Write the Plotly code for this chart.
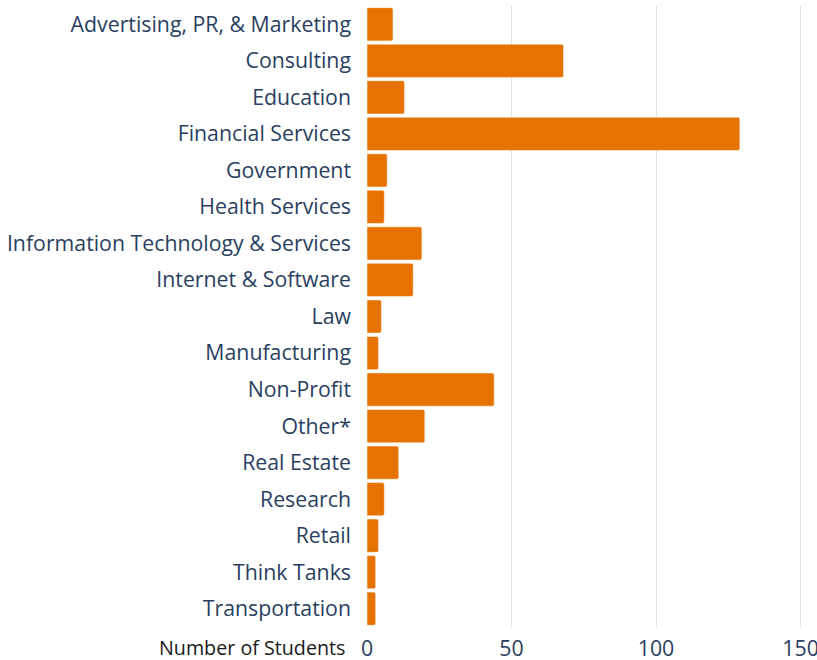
import plotly.graph_objects as go

categories = [
    "Advertising, PR, & Marketing", "Consulting", "Education", "Financial Services",
    "Government", "Health Services", "Information Technology & Services",
    "Internet & Software", "Law", "Manufacturing", "Non-Profit", "Other*",
    "Real Estate", "Research", "Retail", "Think Tanks", "Transportation",
]
students = [9, 68, 13, 129, 7, 6, 19, 16, 5, 4, 44, 20, 11, 6, 4, 3, 3]
x_ticks = [0, 50, 100, 150]
x_title = "Number of Students"

fig = go.Figure(go.Bar(
    x=students, y=categories, orientation="h",
    marker=dict(color="#E67300", line=dict(color="rgba(255,255,255,0.5)", width=1)),
    hoverinfo="x+y",
))

fig.update_layout(
    width=817, height=660,
    margin=dict(l=367, r=2, t=6, b=33, autoexpand=False),
    paper_bgcolor="white", plot_bgcolor="white",
    font=dict(family="Open Sans", size=21.3, color="#2a3f5f"),
    bargap=0.09,
    barcornerradius=2,
    showlegend=False,
    xaxis=dict(range=[0, 155], tickvals=x_ticks, showgrid=True, gridcolor="#e2e2e2",
               gridwidth=1, zeroline=False, showline=False, ticks="", fixedrange=True,
               ticklabeloverflow="allow", ticklabelstandoff=7, automargin=False),
    yaxis=dict(autorange="reversed", showgrid=False, zeroline=False, showline=False,
               ticks="", ticklabelstandoff=15, automargin=False),
    annotations=[dict(text=x_title, xref="paper", yref="paper", x=0, y=0,
                      xanchor="right", yanchor="top", xshift=-20, yshift=-5,
                      showarrow=False, font=dict(family="Open Sans", size=19.7, color="#1a1a1a"))],
)

fig.write_html("out.html", config={"displayModeBar": False},
               post_script="document.body.style.margin='0';document.body.style.overflow='hidden';")
